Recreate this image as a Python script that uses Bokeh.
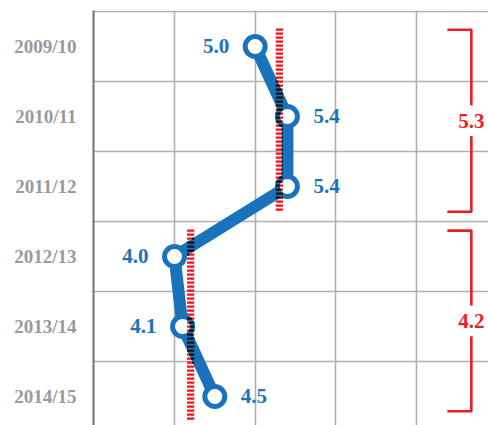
import numpy as np
from bokeh.plotting import figure
from bokeh.models import Range1d, FixedTicker, ColumnDataSource, Grid
from bokeh.embed import file_html
from bokeh.resources import INLINE
from bokeh.core.properties import value

# ---------------- data ----------------
years = ["2009/10", "2010/11", "2011/12", "2012/13", "2013/14", "2014/15"]
rates = [5.0, 5.4, 5.4, 4.0, 4.1, 4.5]
rate_labels = ["5.0", "5.4", "5.4", "4.0", "4.1", "4.5"]
label_side = ["left", "right", "right", "left", "left", "right"]
period_means = [5.3, 4.2]
period_labels = ["5.3", "4.2"]

# ---------------- layout / style ----------------
W, H = 488, 425
FRAME_LEFT, FRAME_TOP = 93, 10
PX_X = 80.67          # px per unit on x
PX_Y = 70.0           # px per row
X_START = 2.996
X_END = X_START + (W - FRAME_LEFT) / PX_X
Y_TOP = -0.514
Y_BOTTOM = Y_TOP + (H - FRAME_TOP) / PX_Y

BLUE = "#1a73ba"
RED = "#ed1c24"
DARK = "#151515"
GRID = "#b0b0b0"
LABEL_GREY = "#9a9a9a"
FONT = "Liberation Serif"

# dashed mean lines (row extents) and brackets (row extents)
dash_spans = [(-0.24, 2.36), (2.63, 5.33)]
bracket_spans = [(-0.24, 2.36), (2.63, 5.21)]
BRACKET_X = 7.68
BRACKET_TICK_PX = 24
LABEL_GAP_ROWS = 0.22

LINE_W = 12
MARK_SIZE = 20
MARK_LW = 5

ys = list(range(len(years)))

p = figure(width=W, height=H,
           x_range=Range1d(X_START, X_END),
           y_range=Range1d(Y_BOTTOM, Y_TOP),
           x_axis_location=None,
           output_backend="svg", toolbar_location=None,
           min_border_left=FRAME_LEFT, min_border_right=0,
           min_border_top=FRAME_TOP, min_border_bottom=0)
p.outline_line_color = None
p.background_fill_color = "white"
p.border_fill_color = "white"

# grids
p.add_layout(Grid(dimension=0, ticker=FixedTicker(ticks=[4, 5, 6, 7]),
                  grid_line_color=GRID, grid_line_width=1.6))
p.ygrid.ticker = FixedTicker(ticks=[-0.5, 0.5, 1.5, 2.5, 3.5, 4.5])
p.ygrid.grid_line_color = GRID
p.ygrid.grid_line_width = 1.6

# y axis
ax = p.yaxis[0]
ax.ticker = FixedTicker(ticks=ys)
ax.major_label_overrides = {i: y for i, y in enumerate(years)}
ax.major_tick_line_color = None
ax.minor_tick_line_color = None
ax.major_tick_out = 0
ax.major_tick_in = 0
ax.axis_line_color = "#707070"
ax.axis_line_width = 2
ax.major_label_text_font = FONT
ax.major_label_text_font_style = "bold"
ax.major_label_text_font_size = "19px"
ax.major_label_text_color = LABEL_GREY
ax.major_label_standoff = 17

# main line and markers
p.line(rates, ys, line_width=LINE_W, line_color=BLUE, line_join="round")
p.scatter(rates, ys, size=MARK_SIZE, fill_color="white",
          line_color=BLUE, line_width=MARK_LW)

# value labels
src = ColumnDataSource(dict(
    x=rates, y=ys, t=rate_labels,
    align=["right" if s == "left" else "left" for s in label_side],
    off=[-26 if s == "left" else 26 for s in label_side]))
p.text(x="x", y="y", text="t", source=src, x_offset="off",
       text_align="align", text_baseline="middle",
       text_font=value(FONT), text_font_style="bold",
       text_font_size="21px", text_color=BLUE)

# ---------- dashed mean lines with "multiply" look ----------
def to_px(x, y):
    return (x - X_START) * PX_X, (y - Y_TOP) * PX_Y

pts = [to_px(x, y) for x, y in zip(rates, ys)]
outer_r = (MARK_SIZE + MARK_LW) / 2.0
inner_r = (MARK_SIZE - MARK_LW) / 2.0

def over_blue(px, py):
    for cx, cy in pts:
        d = np.hypot(px - cx, py - cy)
        if d < outer_r:
            return d >= inner_r
    for (x0, y0), (x1, y1) in zip(pts[:-1], pts[1:]):
        vx, vy = x1 - x0, y1 - y0
        t = ((px - x0) * vx + (py - y0) * vy) / (vx * vx + vy * vy)
        t = min(max(t, 0.0), 1.0)
        d = np.hypot(px - (x0 + t * vx), py - (y0 + t * vy))
        if d < LINE_W / 2.0:
            return True
    return False

sx, sy, sc = [], [], []
for mean, (r0, r1) in zip(period_means, dash_spans):
    n = int((r1 - r0) * PX_Y / 4.0)
    for i in range(n + 1):
        yy = r0 + i * 4.0 / PX_Y
        for k in range(-3, 4):
            xx = mean + k / PX_X
            px, py = to_px(xx, yy)
            sx.append(xx)
            sy.append(yy)
            sc.append(DARK if over_blue(px, py) else RED)

p.rect(x=sx, y=sy, width=1.3, height=2.2, width_units="screen",
       height_units="screen", fill_color=sc, line_color=None)

# ---------- brackets ----------
for lab, mean, (b0, b1) in zip(period_labels, period_means, bracket_spans):
    mid = (b0 + b1) / 2.0
    p.segment(x0=[BRACKET_X, BRACKET_X], y0=[b0, mid + LABEL_GAP_ROWS],
              x1=[BRACKET_X, BRACKET_X], y1=[mid - LABEL_GAP_ROWS, b1],
              line_color=RED, line_width=2.6)
    p.segment(x0=[BRACKET_X + 0.01, BRACKET_X + 0.01],
              y0=[b0, b1],
              x1=[BRACKET_X - BRACKET_TICK_PX / PX_X] * 2,
              y1=[b0, b1], line_color=RED, line_width=2.6)
    p.text(x=[BRACKET_X], y=[mid], text=[lab], text_align="center",
           text_baseline="middle", text_font=value(FONT),
           text_font_style="bold", text_font_size="21px", text_color=RED)

open("out.html", "w").write(file_html(p, INLINE))
